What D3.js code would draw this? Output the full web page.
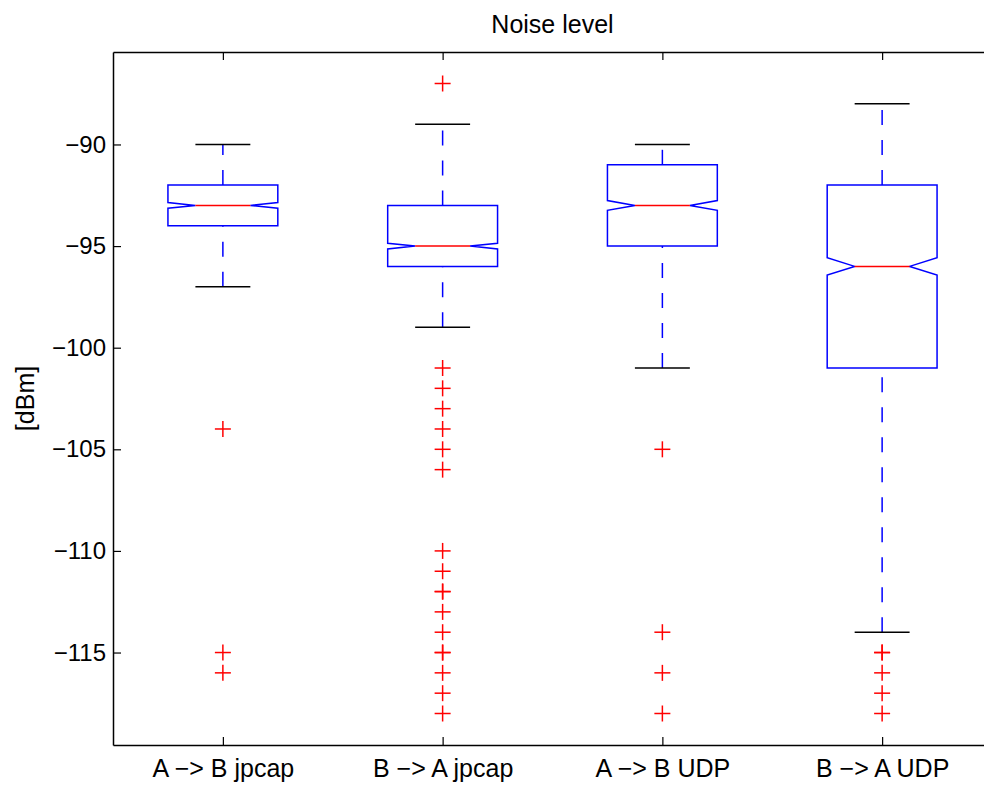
<!DOCTYPE html>
<html>
<head>
<meta charset="utf-8">
<script src="https://cdn.jsdelivr.net/npm/d3@7"></script>
<style>
  body { margin: 0; background: #fff; }
  svg { display: block; font-family: "Liberation Sans", Arial, Helvetica, sans-serif; }
</style>
</head>
<body>
<div id="chart"></div>
<script>
const categories = ['A \u2212> B jpcap', 'B \u2212> A jpcap', 'A \u2212> B UDP', 'B \u2212> A UDP']
const q1 = [-94, -96, -95, -101]
const median = [-93, -95, -93, -96]
const q3 = [-92, -93, -91, -92]
const whiskerLow = [-97, -99, -101, -114]
const whiskerHigh = [-90, -89, -90, -88]
const notchHalf = [0.14, 0.14, 0.24, 0.43]
const outliers = [
    [-104, -115, -116],
    [-87, -101, -102, -103, -104, -105, -106, -110, -111, -112, -112, -113, -114, -115, -115, -116, -117, -118],
    [-105, -114, -116, -118],
    [-115, -115, -116, -117, -118]
]
const yTicks = [-115, -110, -105, -100, -95, -90]

const W = 984, H = 787
const margin = {left: 113, top: 52, right: 992, bottom: 745}
const boxHalf = 0.25, capHalf = 0.125
const lw = 1.5

const svg = d3.select('#chart').append('svg')
    .attr('width', W)
    .attr('height', H)

const x = d3.scaleLinear().domain([0.5, 4.5]).range([margin.left, margin.right])
const y = d3.scaleLinear().domain([-119.55, -85.45]).range([margin.bottom, margin.top])

const data = categories.map((c, i) => ({
    name: c, pos: i + 1, q1: q1[i], med: median[i], q3: q3[i],
    lo: whiskerLow[i], hi: whiskerHigh[i], notch: notchHalf[i], out: outliers[i]
}))

// axes box with inward ticks
const fontSize = 25
svg.append('g')
    .attr('transform', `translate(${margin.left},0)`)
    .call(d3.axisLeft(y).tickValues(yTicks).tickSizeInner(-8).tickSizeOuter(0))
    .call(g => g.selectAll('text').attr('x', -7).style('font-size', '24px'))
svg.append('g')
    .attr('transform', `translate(${margin.right},0)`)
    .call(d3.axisRight(y).tickValues(yTicks).tickSizeInner(-8).tickSizeOuter(0).tickFormat(''))
svg.append('g')
    .attr('transform', `translate(0,${margin.bottom})`)
    .call(d3.axisBottom(x).tickValues([1, 2, 3, 4]).tickSizeInner(-8).tickSizeOuter(0)
        .tickFormat((d, i) => categories[i]))
    .call(g => g.selectAll('text').attr('y', 14).attr('dy', '0.71em').style('font-size', fontSize + 'px'))
svg.append('g')
    .attr('transform', `translate(0,${margin.top})`)
    .call(d3.axisTop(x).tickValues([1, 2, 3, 4]).tickSizeInner(-8).tickSizeOuter(0).tickFormat(''))

svg.selectAll('.domain').attr('stroke', '#000').attr('stroke-width', lw)
svg.selectAll('.tick line').attr('stroke', '#000').attr('stroke-width', 1.2)
svg.selectAll('.tick text').attr('fill', '#000').style('font-family', '"Liberation Sans", Arial, sans-serif')

const boxes = svg.append('g').selectAll('g').data(data).enter().append('g')

// whiskers, drawn from the lower value upward
boxes.append('line')
    .attr('x1', d => x(d.pos)).attr('x2', d => x(d.pos))
    .attr('y1', d => y(d.lo)).attr('y2', d => y(d.q1))
    .attr('stroke', '#0000ff').attr('stroke-width', lw).attr('stroke-dasharray', '15,15')
boxes.append('line')
    .attr('x1', d => x(d.pos)).attr('x2', d => x(d.pos))
    .attr('y1', d => y(d.q3)).attr('y2', d => y(d.hi))
    .attr('stroke', '#0000ff').attr('stroke-width', lw).attr('stroke-dasharray', '15,15')

// caps
boxes.selectAll('line.cap').data(d => [d.lo, d.hi].map(v => ({pos: d.pos, v}))).enter()
    .append('line').attr('class', 'cap')
    .attr('x1', d => x(d.pos - capHalf)).attr('x2', d => x(d.pos + capHalf))
    .attr('y1', d => y(d.v)).attr('y2', d => y(d.v))
    .attr('stroke', '#000').attr('stroke-width', lw)

// notched box
boxes.append('path')
    .attr('d', d => {
        const pts = [
            [d.pos - boxHalf, d.q3], [d.pos + boxHalf, d.q3],
            [d.pos + boxHalf, d.med + d.notch], [d.pos + capHalf, d.med],
            [d.pos + boxHalf, d.med - d.notch], [d.pos + boxHalf, d.q1],
            [d.pos - boxHalf, d.q1], [d.pos - boxHalf, d.med - d.notch],
            [d.pos - capHalf, d.med], [d.pos - boxHalf, d.med + d.notch]
        ]
        return d3.line().x(p => x(p[0])).y(p => y(p[1]))(pts) + 'Z'
    })
    .attr('fill', 'none').attr('stroke', '#0000ff').attr('stroke-width', lw)

// median
boxes.append('line')
    .attr('x1', d => x(d.pos - capHalf)).attr('x2', d => x(d.pos + capHalf))
    .attr('y1', d => y(d.med)).attr('y2', d => y(d.med))
    .attr('stroke', '#ff0000').attr('stroke-width', lw)

// outliers as + markers
const plus = boxes.selectAll('g.out').data(d => d.out.map(v => ({pos: d.pos, v}))).enter()
    .append('g').attr('class', 'out')
    .attr('transform', d => `translate(${x(d.pos)},${y(d.v)})`)
plus.append('line').attr('x1', -8).attr('x2', 8).attr('y1', 0).attr('y2', 0)
    .attr('stroke', '#ff0000').attr('stroke-width', lw)
plus.append('line').attr('x1', 0).attr('x2', 0).attr('y1', -8).attr('y2', 8)
    .attr('stroke', '#ff0000').attr('stroke-width', lw)

// title and y label
svg.append('text')
    .attr('x', (margin.left + margin.right) / 2)
    .attr('y', 33)
    .attr('text-anchor', 'middle')
    .style('font-size', fontSize + 'px')
    .text('Noise level')

svg.append('text')
    .attr('transform', `translate(34,${(margin.top + margin.bottom) / 2}) rotate(-90)`)
    .attr('text-anchor', 'middle')
    .style('font-size', fontSize + 'px')
    .text('[dBm]')
</script>
</body>
</html>
